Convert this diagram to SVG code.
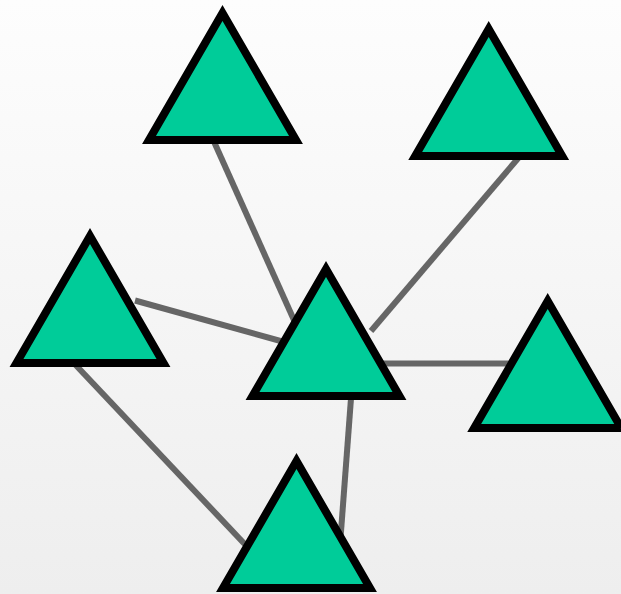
<svg xmlns="http://www.w3.org/2000/svg" width="621" height="594" viewBox="0 0 621 594">
<defs>
<linearGradient id="bg" x1="0" y1="0" x2="0" y2="1">
<stop offset="0" stop-color="#fdfdfd"/>
<stop offset="1" stop-color="#eeeeee"/>
</linearGradient>
<polygon id="tri" points="0,0 -73.5,127 73.5,127"/>
</defs>
<style>
.edge{stroke:#666666;stroke-width:6;fill:none}
.node use{fill:#00cc99;stroke:#000000;stroke-width:8;stroke-linejoin:miter;stroke-miterlimit:10}
</style>
<rect width="621" height="594" fill="url(#bg)"/>
<g id="connectors">
<line class="edge" x1="211" y1="135" x2="298.4" y2="330"/>
<line class="edge" x1="525.2" y1="150" x2="371" y2="331"/>
<line class="edge" x1="135" y1="300.5" x2="295" y2="345"/>
<line class="edge" x1="375" y1="363.5" x2="525" y2="363.5"/>
<line class="edge" x1="70" y1="359" x2="255" y2="555"/>
<line class="edge" x1="352" y1="385" x2="340" y2="545"/>
</g>
<g id="n1" class="node"><use href="#tri" x="222.5" y="13"/></g>
<g id="n2" class="node"><use href="#tri" x="488.7" y="29"/></g>
<g id="n3" class="node"><use href="#tri" x="90" y="236"/></g>
<g id="n4" class="node"><use href="#tri" x="326" y="269"/></g>
<g id="n5" class="node"><use href="#tri" x="547.7" y="301"/></g>
<g id="n6" class="node"><use href="#tri" x="296.5" y="461"/></g>
</svg>
